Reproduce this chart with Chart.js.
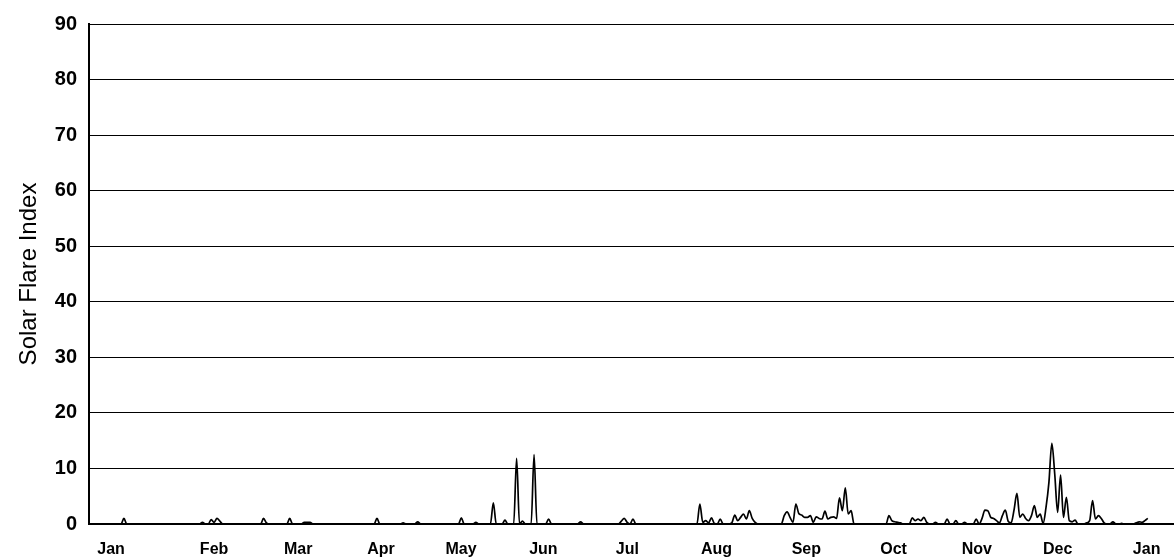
<!DOCTYPE html>
<html>
<head>
<meta charset="utf-8">
<script src="https://cdn.jsdelivr.net/npm/chart.js@4/dist/chart.umd.min.js"></script>
<style>
  html, body { margin: 0; padding: 0; background: #fff; }
  #wrap { width: 1174px; height: 557px; }
</style>
</head>
<body>
<div id="wrap"><canvas id="grafico" width="1174" height="557"></canvas></div>
<script>
// daily solar flare index, one row per month (Jan..Dec)
const flareJan = [0,0,0,0,0,0,0,0,0,0,0,0,1.0,0,0,0,0,0,0,0,0,0,0,0,0,0,0,0,0,0,0];
const flareFeb = [0,0,0,0,0,0,0,0,0.3,0,0,0.8,0.3,1.0,0.5,0,0,0,0,0,0,0,0,0,0,0,0,0];
const flareMar = [0,1.0,0.2,0,0,0,0,0,0,0,1.0,0,0,0,0,0.3,0.3,0.3,0,0,0,0,0,0,0,0,0,0,0,0,0];
const flareApr = [0,0,0,0,0,0,0,0,0,1.0,0,0,0,0,0,0,0,0,0.2,0,0,0,0,0.4,0,0,0,0,0,0];
const flareMay = [0,0,0,0,0,0,0,0,1.1,0,0,0,0,0.3,0,0,0,0,0,3.8,0,0,0,0.7,0,0,0,11.8,0,0.5,0];
const flareJun = [0,0,12.5,0,0,0,0,0.9,0,0,0,0,0,0,0,0,0,0,0.4,0,0,0,0,0,0,0,0,0,0,0];
const flareJul = [0,0,0.5,1.0,0.3,0,0.9,0,0,0,0,0,0,0,0,0,0,0,0,0,0,0,0,0,0,0,0,0,0,3.6,0.3];
const flareAug = [0.6,0.2,1.1,0.1,0,0.9,0,0,0,0.2,1.6,0.6,1.2,1.8,0.9,2.4,1.0,0.3,0,0,0,0,0,0,0,0,0,1.5,2.2,1.2,0.3];
const flareSep = [3.6,1.9,1.6,1.2,1.2,1.5,0.3,1.3,1.0,0.9,2.3,0.9,1.2,1.3,1.0,4.7,2.4,6.5,1.8,2.4,0,0,0,0,0,0,0,0,0,0];
const flareOct = [0,0,1.5,0.6,0.4,0.3,0.2,0,0,0,1.1,0.6,0.9,0.6,1.2,0.3,0,0,0.3,0,0,0,0.9,0,0,0.6,0,0,0.3,0,0];
const flareNov = [0,0.9,0,1.0,2.5,2.4,1.2,1.0,0.6,0.2,1.5,2.5,0.5,0.2,2.5,5.5,1.2,1.8,1.0,0.6,1.5,3.3,1.2,1.8,0.1,3.0,7.5,14.5,9.0,2.1];
const flareDec = [8.8,1.2,4.8,0.6,0.4,0.7,0,0,0,0.2,0.6,4.2,0.9,1.5,1.0,0.2,0,0,0.4,0,0,0.1,0,0,0,0,0.2,0.4,0.3,0.6,1.0];

// month labels and where they sit on the day axis
const monthLabels = ['Jan','Feb','Mar','Apr','May','Jun','Jul','Aug','Sep','Oct','Nov','Dec','Jan'];
const monthTickDays = [7.6, 43, 71.9, 100.4, 127.9, 156.2, 185.1, 215.7, 246.6, 276.6, 305.2, 333, 363.6];

const yTicks = [0,10,20,30,40,50,60,70,80,90];

const flareYear = [].concat(flareJan, flareFeb, flareMar, flareApr, flareMay, flareJun,
                            flareJul, flareAug, flareSep, flareOct, flareNov, flareDec);
const puntos = flareYear.map((v, i) => ({ x: i, y: v }));

const fuenteTicks = { family: '"Liberation Sans", Arial, sans-serif', weight: 'bold' };

const ctx = document.getElementById('grafico').getContext('2d');
new Chart(ctx, {
    type: 'line',
    data: {
        datasets: [{
            data: puntos,
            borderColor: '#000',
            borderWidth: 1.7,
            pointRadius: 0,
            cubicInterpolationMode: 'monotone',
            fill: false
        }]
    },
    options: {
        responsive: false,
        animation: false,
        layout: { padding: { top: 23, right: 0, left: 0, bottom: 0 } },
        plugins: {
            legend: { display: false },
            tooltip: { enabled: false }
        },
        scales: {
            x: {
                type: 'linear',
                min: 0,
                max: 373,
                grid: { display: false, drawTicks: false },
                border: { display: true, color: '#000', width: 1.5 },
                afterBuildTicks: (scale) => {
                    scale.ticks = monthTickDays.map(v => ({ value: v }));
                },
                afterFit: (scale) => {
                    scale.height = 33;
                    scale.paddingLeft = 0;
                    scale.paddingRight = 0;
                },
                ticks: {
                    color: '#000',
                    padding: 16,
                    maxRotation: 0,
                    autoSkip: false,
                    font: { ...fuenteTicks, size: 16 },
                    callback: (value, index) => monthLabels[index]
                }
            },
            y: {
                min: 0,
                max: 90,
                afterBuildTicks: (scale) => {
                    scale.ticks = yTicks.map(v => ({ value: v }));
                },
                afterFit: (scale) => { scale.width = 89; },
                grid: { color: '#000', lineWidth: 1, drawTicks: false },
                border: { display: true, color: '#000', width: 2 },
                ticks: {
                    color: '#000',
                    padding: 12,
                    font: { ...fuenteTicks, size: 20 }
                },
                title: {
                    display: true,
                    text: 'Solar Flare Index',
                    color: '#000',
                    padding: { top: 15, bottom: 0 },
                    font: { family: '"Liberation Sans", Arial, sans-serif', size: 24 }
                }
            }
        }
    }
});
</script>
</body>
</html>
